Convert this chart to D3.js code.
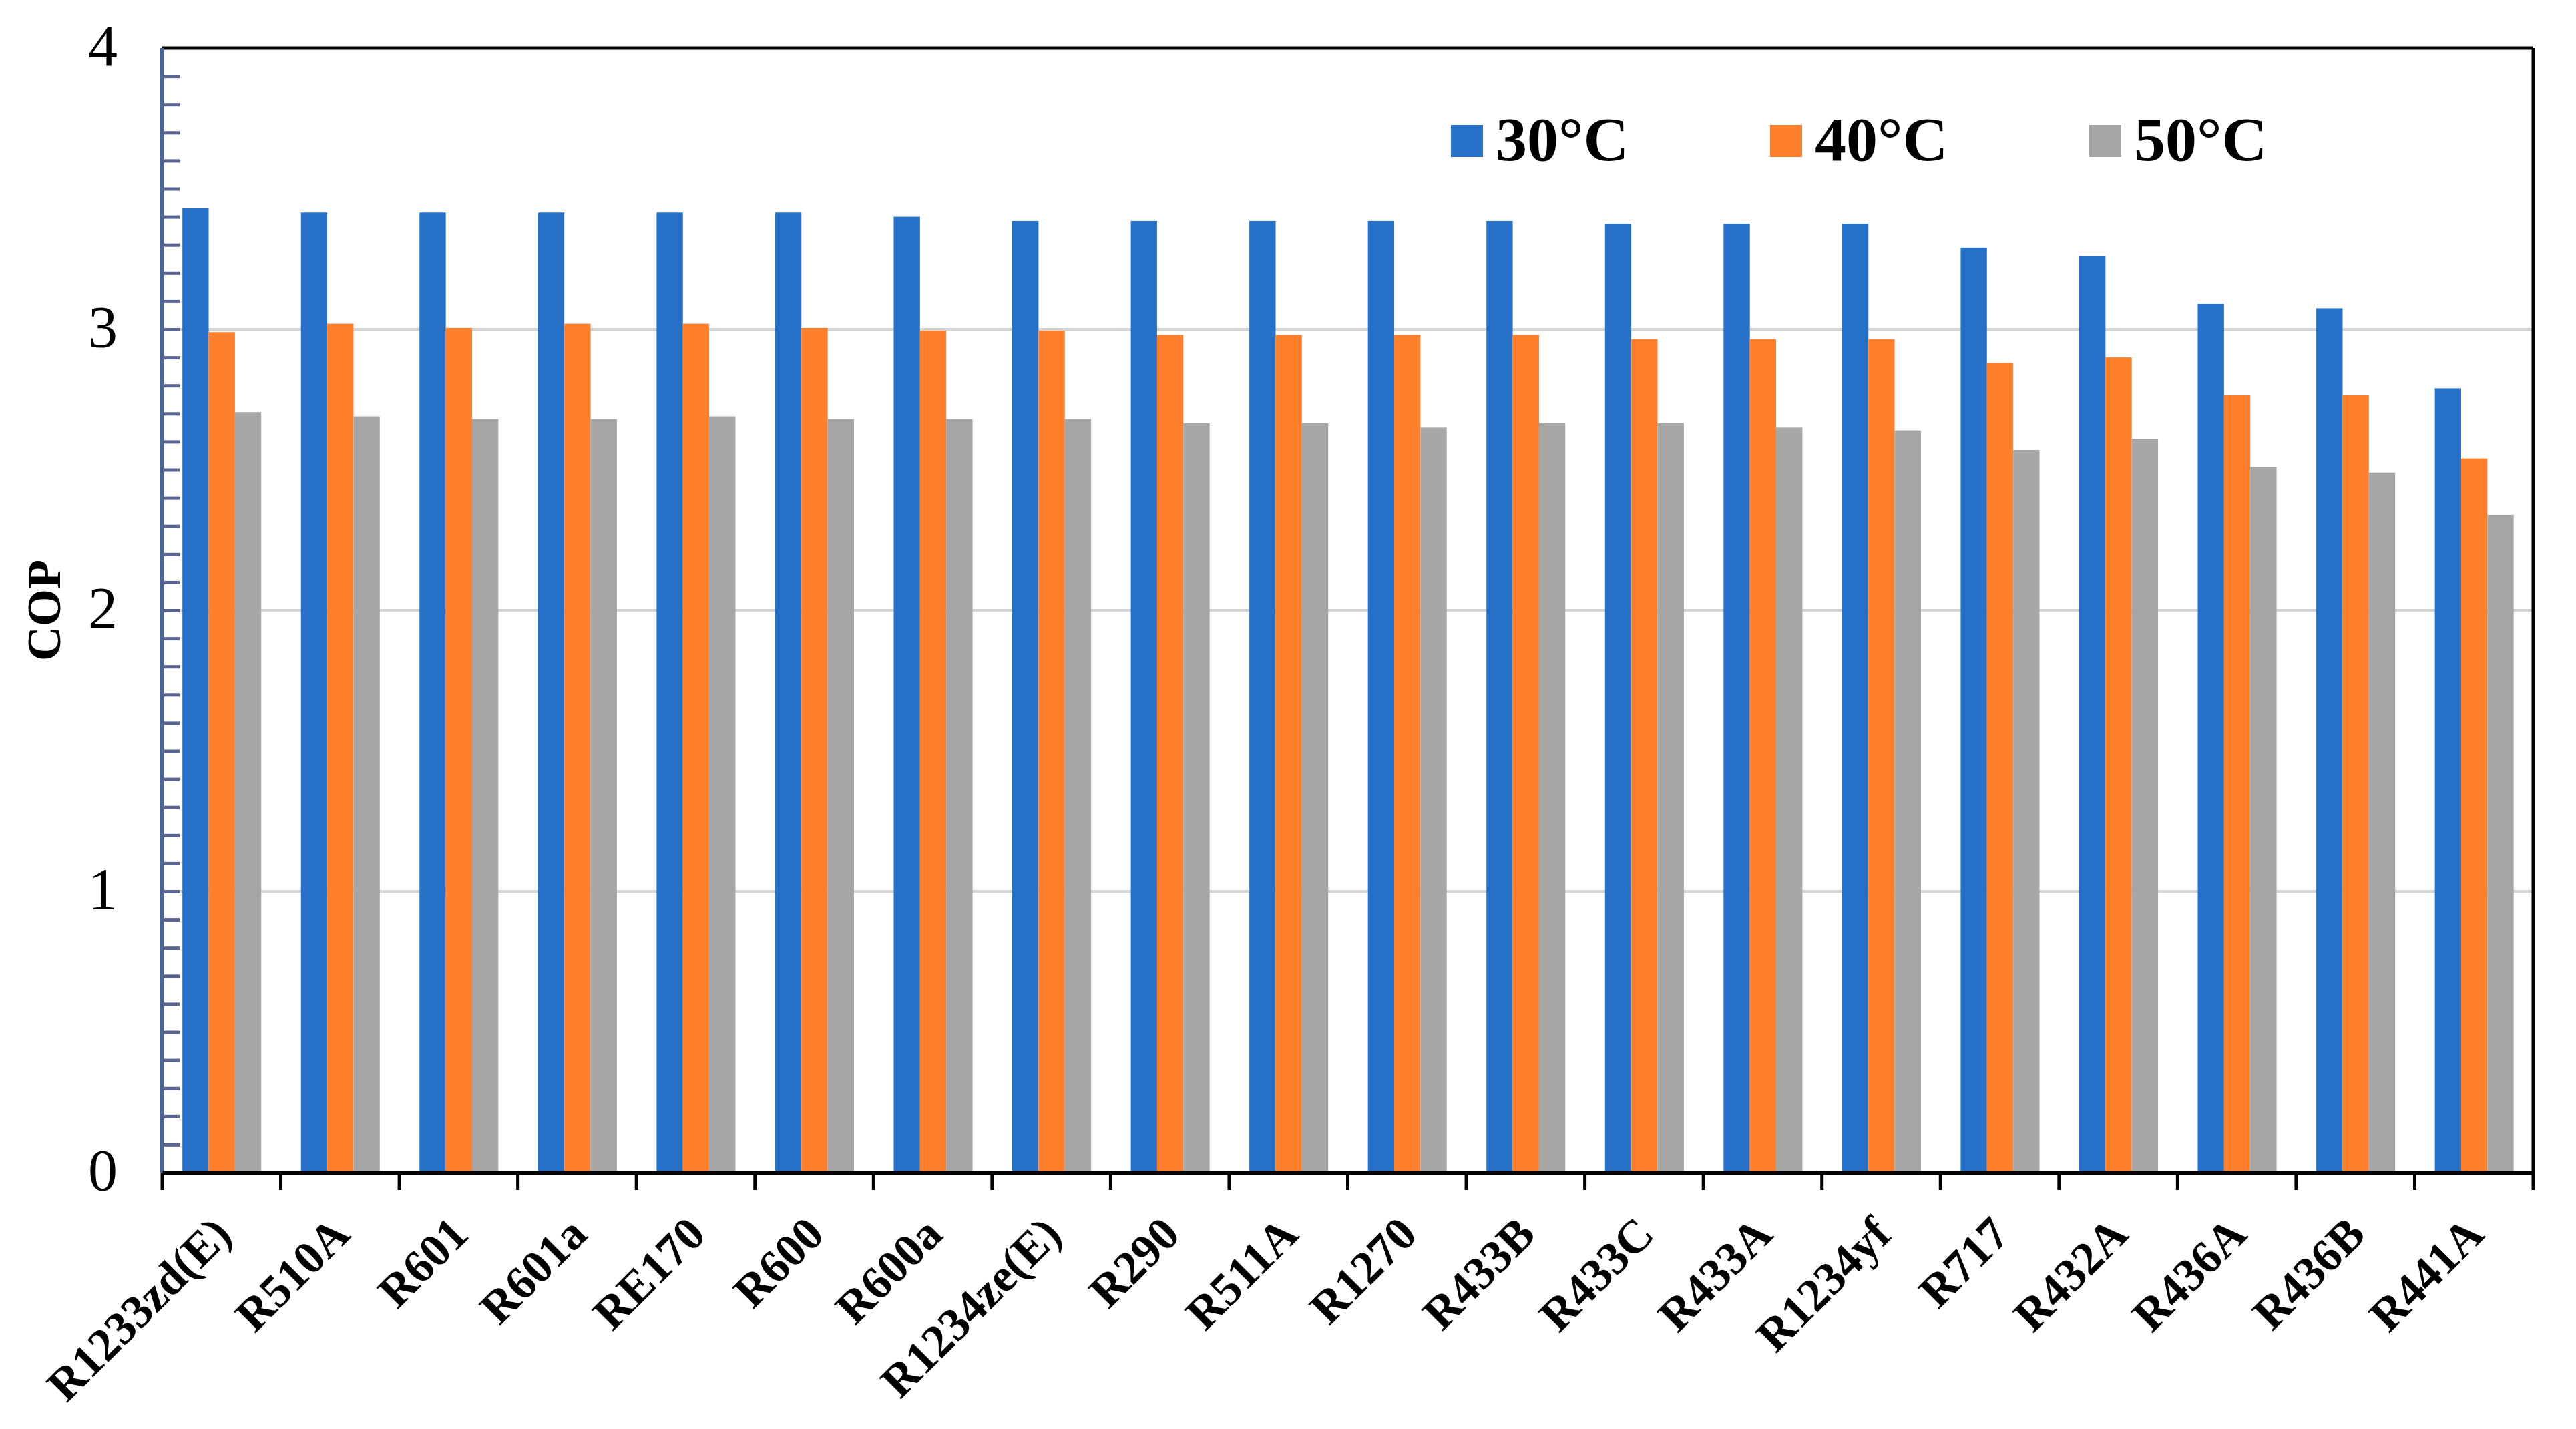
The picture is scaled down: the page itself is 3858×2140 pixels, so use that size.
<!DOCTYPE html>
<html>
<head>
<meta charset="utf-8">
<script src="https://cdn.jsdelivr.net/npm/d3@7"></script>
<style>
  body { margin: 0; background: #ffffff; }
  svg { display: block; }
</style>
</head>
<body>
<svg id="chart"></svg>
<script>
// refrigerants along the x axis
var refrigerants = ["R1233zd(E)", "R510A", "R601", "R601a", "RE170", "R600", "R600a", "R1234ze(E)",
    "R290", "R511A", "R1270", "R433B", "R433C", "R433A", "R1234yf", "R717", "R432A", "R436A", "R436B", "R441A"];
var seriesNames = ["30°C", "40°C", "50°C"];
var seriesColors = ["#2670c8", "#fe7f2c", "#a6a6a6"];

// COP values
var cop30 = [3.43, 3.415, 3.415, 3.415, 3.415, 3.415, 3.40, 3.385, 3.385, 3.385, 3.385, 3.385, 3.375, 3.375, 3.375, 3.29, 3.26, 3.09, 3.075, 2.79];
var cop40 = [2.99, 3.02, 3.005, 3.02, 3.02, 3.005, 2.995, 2.995, 2.98, 2.98, 2.98, 2.98, 2.965, 2.965, 2.965, 2.88, 2.90, 2.765, 2.765, 2.54];
var cop50 = [2.705, 2.69, 2.68, 2.68, 2.69, 2.68, 2.68, 2.68, 2.665, 2.665, 2.65, 2.665, 2.665, 2.65, 2.64, 2.57, 2.61, 2.51, 2.49, 2.34];
var yTicks = [0, 1, 2, 3, 4];

var containerWidth = 3858, containerHeight = 2140;
var plotLeft = 243, plotRight = 3794, plotTop = 72, plotBottom = 1756;

var svg = d3.select("#chart")
    .attr("width", containerWidth)
    .attr("height", containerHeight)
    .attr("viewBox", `0 0 ${containerWidth} ${containerHeight}`);

svg.append("rect")
    .attr("width", containerWidth)
    .attr("height", containerHeight)
    .attr("fill", "#ffffff");

var x = d3.scaleBand()
    .domain(refrigerants)
    .range([plotLeft, plotRight])
    .padding(0);

var xInner = d3.scaleBand()
    .domain(seriesNames)
    .range([x.bandwidth() * 0.17, x.bandwidth() * 0.835])
    .padding(0);

var y = d3.scaleLinear()
    .domain([0, 4])
    .range([plotBottom, plotTop]);

var table = refrigerants.map(function(r, i){
    return {name: r, values: [cop30[i], cop40[i], cop50[i]]};
});

// grid lines
svg.append("g")
    .selectAll("line")
    .data(yTicks.filter(function(d){ return d > 0 && d < 4; }))
    .enter()
    .append("line")
        .attr("x1", plotLeft)
        .attr("x2", plotRight)
        .attr("y1", function(d){ return y(d); })
        .attr("y2", function(d){ return y(d); })
        .attr("stroke", "#d4d4d4")
        .attr("stroke-width", 4);

// bars
var groups = svg.append("g")
    .selectAll("g")
    .data(table)
    .enter()
    .append("g")
        .attr("transform", function(d){ return "translate(" + x(d.name) + ",0)"; });

groups.selectAll("rect")
    .data(function(d){ return d.values.map(function(v, i){ return {key: seriesNames[i], value: v, i: i}; }); })
    .enter()
    .append("rect")
        .attr("x", function(d){ return xInner(d.key); })
        .attr("y", function(d){ return y(d.value); })
        .attr("width", xInner.bandwidth())
        .attr("height", function(d){ return plotBottom - y(d.value); })
        .attr("fill", function(d){ return seriesColors[d.i]; });

// frame: top and right in black
svg.append("line")
    .attr("x1", plotLeft).attr("x2", plotRight)
    .attr("y1", plotTop).attr("y2", plotTop)
    .attr("stroke", "#000").attr("stroke-width", 5);
svg.append("line")
    .attr("x1", plotRight).attr("x2", plotRight)
    .attr("y1", plotTop).attr("y2", plotBottom)
    .attr("stroke", "#000").attr("stroke-width", 5);

// y axis with minor ticks every 0.1 pointing inward
var yAxis = d3.axisRight(y)
    .tickValues(d3.range(0, 40).map(function(d){ return d / 10; }))
    .tickSize(26)
    .tickFormat("");
var gy = svg.append("g")
    .attr("transform", "translate(" + plotLeft + ",0)")
    .call(yAxis);
gy.select(".domain")
    .attr("stroke", "#4a6494")
    .attr("stroke-width", 6)
    .attr("d", "M0," + plotTop + "V" + plotBottom);
gy.selectAll(".tick line")
    .attr("stroke", "#5a6490")
    .attr("stroke-width", 5);

svg.append("g")
    .selectAll("text")
    .data(yTicks)
    .enter()
    .append("text")
        .attr("x", 176)
        .attr("y", function(d){ return y(d); })
        .attr("dy", "0.3em")
        .attr("text-anchor", "end")
        .attr("font-family", "Liberation Serif, Times New Roman, serif")
        .attr("font-size", "88px")
        .attr("fill", "#000")
        .text(function(d){ return d; });

// x axis
var xAxis = d3.axisBottom(x)
    .tickValues([])
    .tickSizeOuter(0);
svg.append("g")
    .attr("transform", "translate(0," + plotBottom + ")")
    .call(xAxis)
    .select(".domain")
        .attr("stroke", "#000")
        .attr("stroke-width", 6);

svg.append("g")
    .selectAll("line")
    .data(d3.range(refrigerants.length + 1))
    .enter()
    .append("line")
        .attr("x1", function(i){ return plotLeft + i * x.step(); })
        .attr("x2", function(i){ return plotLeft + i * x.step(); })
        .attr("y1", plotBottom)
        .attr("y2", plotBottom + 26)
        .attr("stroke", "#000")
        .attr("stroke-width", 5);

svg.append("g")
    .selectAll("text")
    .data(refrigerants)
    .enter()
    .append("text")
        .attr("transform", function(d){
            return "translate(" + (x(d) + x.bandwidth() / 2 + 18) + "," + (plotBottom + 96) + ") rotate(-45)";
        })
        .attr("text-anchor", "end")
        .attr("font-family", "Liberation Serif, Times New Roman, serif")
        .attr("font-weight", "bold")
        .attr("font-size", "70px")
        .attr("fill", "#000")
        .text(function(d){ return d; });

// y label
svg.append("text")
    .attr("transform", "translate(90," + ((plotTop + plotBottom) / 2) + ") rotate(-90)")
    .attr("text-anchor", "middle")
    .attr("font-family", "Liberation Serif, Times New Roman, serif")
    .attr("font-weight", "bold")
    .attr("font-size", "72px")
    .attr("fill", "#000")
    .text("COP");

// legend
var legend = svg.append("g")
    .selectAll("g")
    .data(seriesNames)
    .enter()
    .append("g")
        .attr("transform", function(d, i){ return "translate(" + (2173 + i * 478) + ",187)"; });
legend.append("rect")
    .attr("width", 48)
    .attr("height", 48)
    .attr("fill", function(d, i){ return seriesColors[i]; });
legend.append("text")
    .attr("x", 67)
    .attr("y", 53)
    .attr("font-family", "Liberation Serif, Times New Roman, serif")
    .attr("font-weight", "bold")
    .attr("font-size", "94px")
    .attr("fill", "#000")
    .text(function(d){ return d; });
</script>
</body>
</html>
